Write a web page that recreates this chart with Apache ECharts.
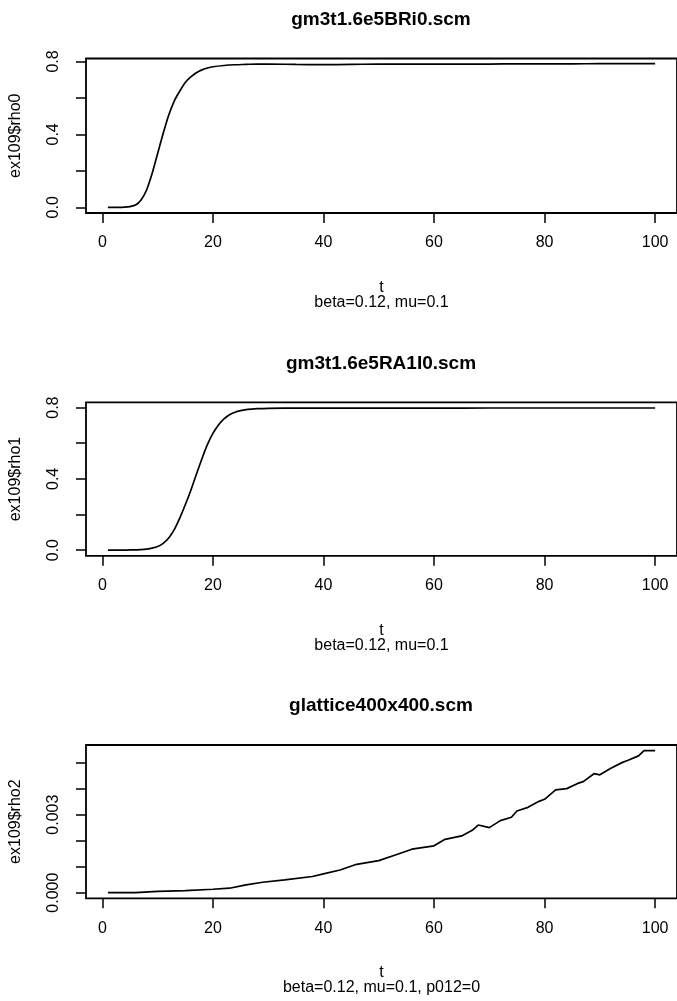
<!DOCTYPE html>
<html>
<head>
<meta charset="utf-8">
<script src="https://cdn.jsdelivr.net/npm/echarts@6/dist/echarts.min.js"></script>
<style>
  html, body { margin: 0; padding: 0; background: #fff; }
  #chart { width: 677px; height: 1001px; }
</style>
</head>
<body>
<div id="chart"></div>
<script>
// ---- data: density time series from three runs ----
const rho0T = [1, 2, 3, 4, 5, 6, 7, 8, 9, 10, 11, 12, 13, 14, 15, 16, 17, 18, 19, 20,
  22, 24, 26, 28, 30, 35, 40, 45, 50, 55, 60, 65, 70, 75, 80, 85, 90, 95, 100];
const rho0 = [0.000, 0.000, 0.000, 0.001, 0.004, 0.012, 0.040, 0.095, 0.185, 0.295,
  0.405, 0.505, 0.583, 0.637, 0.685, 0.715, 0.738, 0.754, 0.764, 0.771,
  0.778, 0.782, 0.784, 0.786, 0.786, 0.784, 0.783, 0.784, 0.786, 0.785,
  0.785, 0.786, 0.786, 0.787, 0.787, 0.787, 0.788, 0.788, 0.788];

const rho1T = [1, 2, 3, 4, 5, 6, 7, 8, 9, 10, 11, 12, 13, 14, 15, 16, 17, 18, 19, 20,
  21, 22, 23, 24, 25, 26, 27, 28, 30, 33, 36, 40, 50, 60, 70, 80, 90, 100];
const rho1 = [0.000, 0.000, 0.000, 0.000, 0.001, 0.001, 0.003, 0.006, 0.011, 0.020,
  0.038, 0.068, 0.115, 0.180, 0.255, 0.335, 0.425, 0.512, 0.592, 0.655,
  0.703, 0.737, 0.760, 0.774, 0.783, 0.789, 0.792, 0.794, 0.796, 0.797,
  0.797, 0.797, 0.797, 0.797, 0.798, 0.798, 0.798, 0.798];

const rho2T = [1, 6, 10, 15, 20, 23, 26, 29, 33, 38, 40, 43, 46, 50, 53, 56, 60, 62,
  65, 67, 68, 70, 72, 74, 75, 77, 79, 80, 82, 84, 86, 87, 89, 90, 92, 94, 95, 97, 98, 100];
const rho2 = [0.00000, 0.00000, 0.00005, 0.00008, 0.00013, 0.00017, 0.00030, 0.00040,
  0.00049, 0.00062, 0.00072, 0.00087, 0.00109, 0.00123, 0.00145, 0.00167, 0.00180,
  0.00205, 0.00218, 0.00241, 0.00260, 0.00250, 0.00277, 0.00290, 0.00314, 0.00328,
  0.00351, 0.00359, 0.00395, 0.00400, 0.00420, 0.00427, 0.00458, 0.00453, 0.00478,
  0.00500, 0.00508, 0.00526, 0.00546, 0.00546];

// ---- axis ticks and labels ----
const tTicks = [0, 20, 40, 60, 80, 100];
const rhoTicks = [0, 0.2, 0.4, 0.6, 0.8];
const rhoLabels = [0, 0.4, 0.8];
const rho2Ticks = [0, 0.001, 0.002, 0.003, 0.004, 0.005];
const rho2Labels = [0, 0.003];

// ---- text ----
const titles = ['gm3t1.6e5BRi0.scm', 'gm3t1.6e5RA1I0.scm', 'glattice400x400.scm'];
const yNames = ['ex109$rho0', 'ex109$rho1', 'ex109$rho2'];
const subtitles = ['beta=0.12, mu=0.1', 'beta=0.12, mu=0.1', 'beta=0.12, mu=0.1, p012=0'];

// panel layout and scales (ranges padded 4% like base graphics)
const panels = [
  { t: rho0T, y: rho0, yMin: -0.0314, yMax: 0.8164, ticks: rhoTicks, labels: rhoLabels, digits: 1, top: 58.5, height: 154.5, smooth: 0.3 },
  { t: rho1T, y: rho1, yMin: -0.0319, yMax: 0.8299, ticks: rhoTicks, labels: rhoLabels, digits: 1, top: 402.3, height: 153.5, smooth: 0.3 },
  { t: rho2T, y: rho2, yMin: -0.000218, yMax: 0.005678, ticks: rho2Ticks, labels: rho2Labels, digits: 3, top: 745, height: 153.3, smooth: false }
];

const FONT = '"Liberation Sans", Arial, Helvetica, sans-serif';
const LEFT = 86, WIDTH = 594;

const grid = [], xAxis = [], yAxis = [], series = [], graphic = [];
panels.forEach((p, i) => {
  grid.push({
    left: LEFT, top: p.top, width: WIDTH, height: p.height,
    show: true, borderColor: '#000', borderWidth: 1.8, backgroundColor: 'transparent'
  });
  xAxis.push({
    type: 'value', gridIndex: i, min: -2.96, max: 103.96,
    axisLine: { show: false, onZero: false },
    axisTick: { show: true, length: 10, customValues: tTicks, lineStyle: { color: '#000', width: 1.5 } },
    axisLabel: { customValues: tTicks, margin: 22, fontSize: 16, color: '#000', fontFamily: FONT },
    splitLine: { show: false },
    name: 't\n' + subtitles[i], nameLocation: 'middle', nameGap: 67,
    nameTextStyle: { fontSize: 16, lineHeight: 15, color: '#000', fontFamily: FONT }
  });
  yAxis.push({
    type: 'value', gridIndex: i, min: p.yMin, max: p.yMax,
    axisLine: { show: false, onZero: false },
    axisTick: { show: true, length: 10, customValues: p.ticks, lineStyle: { color: '#000', width: 1.5 } },
    axisLabel: {
      customValues: p.labels, rotate: 90, margin: 24, fontSize: 16, color: '#000', fontFamily: FONT,
      formatter: v => v.toFixed(p.digits)
    },
    splitLine: { show: false },
    name: yNames[i], nameLocation: 'middle', nameRotate: 90, nameGap: 62,
    nameTextStyle: { fontSize: 16, color: '#000', fontFamily: FONT }
  });
  series.push({
    type: 'line', xAxisIndex: i, yAxisIndex: i,
    data: p.t.map((tv, k) => [tv, p.y[k]]),
    showSymbol: false, symbol: 'none',
    smooth: p.smooth,
    lineStyle: { color: '#000', width: 1.7 },
    silent: true
  });
  graphic.push({
    type: 'text', x: LEFT + WIDTH / 2 - 2, y: p.top - 39,
    style: { text: titles[i], font: 'bold 19px ' + FONT, fill: '#000', align: 'center', verticalAlign: 'middle' }
  });
});

const chart = echarts.init(document.getElementById('chart'), null, { renderer: 'canvas' });
chart.setOption({
  backgroundColor: '#fff',
  animation: false,
  grid, xAxis, yAxis, series, graphic
});
</script>
</body>
</html>
